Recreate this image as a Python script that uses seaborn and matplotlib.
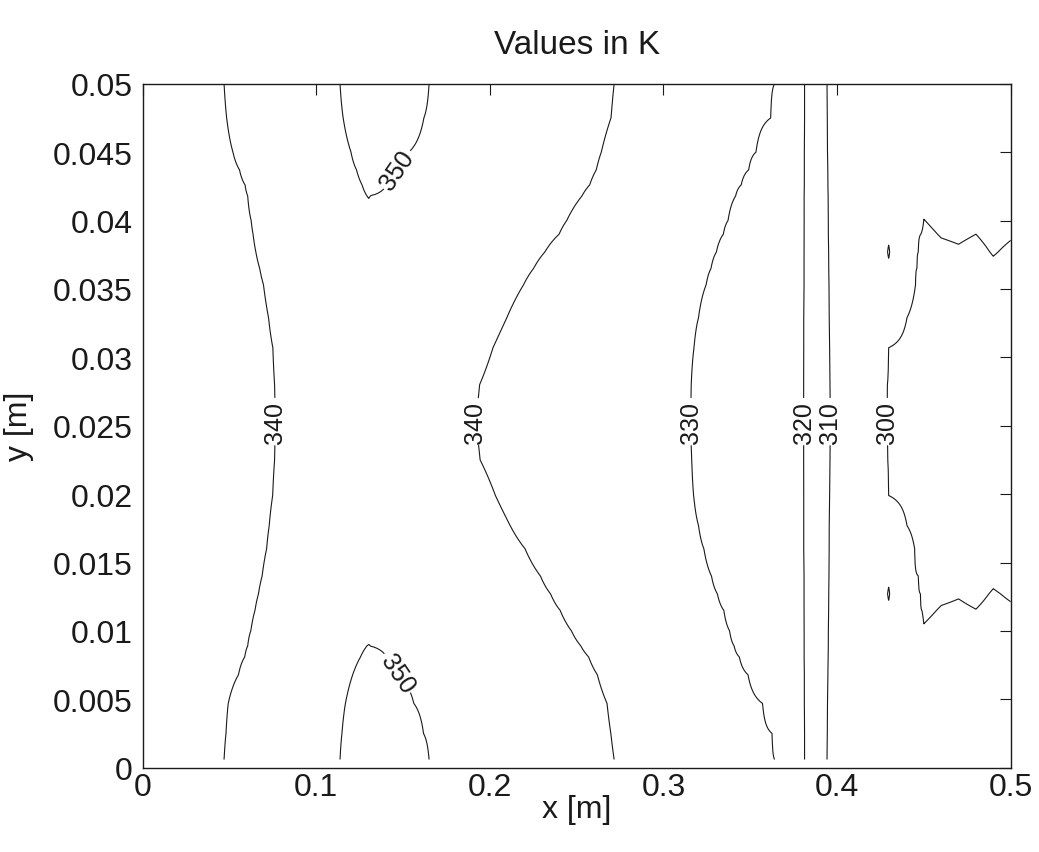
import numpy as np
import matplotlib
matplotlib.use("Agg")
import matplotlib.pyplot as plt
from matplotlib.ticker import FuncFormatter, MultipleLocator
import seaborn as sns

nan = np.nan

# rows of the temperature field (y in m)
y_rows = [0.0006, 0.0025, 0.0047, 0.0068, 0.0081, 0.0089, 0.0100, 0.0115, 0.0127, 0.0140,
          0.0160, 0.0177, 0.0199, 0.0225, 0.0253, 0.0280, 0.0307, 0.0329, 0.0353, 0.0365,
          0.0377, 0.0390, 0.0400, 0.0418, 0.0426, 0.0437, 0.0450, 0.0475, 0.0500]

# x (m) where each isotherm crosses a row
x340_left = [0.0469, 0.0480, 0.0493, 0.0552, 0.0588, 0.0605, 0.0623, 0.0647, 0.0667, 0.0688,
             0.0714, 0.0729, 0.0749, 0.0760, 0.0765, 0.0760, 0.0750, 0.0725, 0.0696, 0.0674,
             0.0652, 0.0636, 0.0625, 0.0605, 0.0590, 0.0558, 0.0520, 0.0484, 0.0469]
x350_left = [0.1137, 0.1148, 0.1168, 0.1210, 0.1255, 0.1292] + [nan] * 17 + \
            [0.1292, 0.1264, 0.1232, 0.1200, 0.1155, 0.1137]
x350_right = [0.1650, 0.1618, 0.1562, 0.1468, 0.1406, 0.1312] + [nan] * 17 + \
             [0.1312, 0.1406, 0.1466, 0.1534, 0.1620, 0.1650]
x340_right = [0.2716, 0.2697, 0.2675, 0.2619, 0.2569, 0.2524, 0.2470, 0.2405, 0.2350, 0.2292,
              0.2203, 0.2117, 0.2032, 0.1944, 0.1915, 0.1941, 0.2018, 0.2098, 0.2194, 0.2252,
              0.2317, 0.2399, 0.2443, 0.2531, 0.2575, 0.2613, 0.2642, 0.2698, 0.2716]
x330 = [0.3640, 0.3626, 0.3571, 0.3487, 0.3437, 0.3407, 0.3381, 0.3348, 0.3311, 0.3277,
        0.3233, 0.3202, 0.3174, 0.3163, 0.3157, 0.3160, 0.3176, 0.3202, 0.3246, 0.3274,
        0.3305, 0.3345, 0.3372, 0.3416, 0.3448, 0.3491, 0.3533, 0.3618, 0.3640]
x320 = [0.3813, 0.3813, 0.3812, 0.3812, 0.3811, 0.3811, 0.3811, 0.3810, 0.3810, 0.3810,
        0.3809, 0.3809, 0.3809, 0.3808, 0.3808, 0.3808, 0.3809, 0.3809, 0.3810, 0.3810,
        0.3810, 0.3811, 0.3811, 0.3811, 0.3812, 0.3812, 0.3812, 0.3813, 0.3813]
x310 = [0.3942, 0.3943, 0.3945, 0.3947, 0.3948, 0.3949, 0.3950, 0.3951, 0.3952, 0.3953,
        0.3954, 0.3955, 0.3957, 0.3959, 0.3961, 0.3959, 0.3957, 0.3955, 0.3953, 0.3952,
        0.3951, 0.3950, 0.3949, 0.3948, 0.3947, 0.3946, 0.3945, 0.3943, 0.3942]
x300 = [nan] * 7 + [0.4489, 0.4481, 0.4469, 0.4447, 0.4403, 0.4297, 0.4292, 0.4288,
                    0.4290, 0.4297, 0.4403, 0.4452, 0.4460, 0.4468, 0.4483] + [nan] * 7

# hottest value between the two 340 K lines, per row
t_peak = [356, 355, 354, 352.5, 351.5, 350.3, 348.5, 347.5, 347, 346.5,
          346, 346, 346, 346, 346, 346, 346, 346, 346, 346.5,
          347, 347.5, 348.5, 350.3, 351.5, 352.5, 354, 355, 356]
# value near x = 0.43 (the two tiny 300 K islands)
t_island = [nan] * 7 + [300.3, 299.8, 300.3] + [nan] * 9 + [300.3, 299.8, 300.3] + [nan] * 7
t_inlet = 335.0

# outlet columns: y where the 300 K line crosses them
x_cols = [0.45, 0.46, 0.47, 0.48, 0.49, 0.50]
y300_low = [0.0105, 0.0119, 0.0124, 0.0116, 0.0132, 0.0122]
y300_high = [0.0401, 0.0387, 0.0382, 0.0390, 0.0373, 0.0385]
t_col_wall = 301.5
t_col_mid = 298.0
y_mid = 0.0253

levels = [300, 310, 320, 330, 340, 350]

x_grid = np.linspace(0.0, 0.5, 2001)
field = []
for i, y in enumerate(y_rows):
    kx = [0.0, x340_left[i]]
    kt = [t_inlet, 340]
    if np.isnan(x350_left[i]):
        kx += [0.14]
        kt += [t_peak[i]]
    else:
        kx += [x350_left[i], 0.5 * (x350_left[i] + x350_right[i]), x350_right[i]]
        kt += [350, t_peak[i], 350]
    kx += [x340_right[i], x330[i], x320[i], x310[i]]
    kt += [340, 330, 320, 310]
    if not np.isnan(t_island[i]):
        if t_island[i] < 300:
            kx += [0.4282, 0.4297, 0.4312]
            kt += [300.3, t_island[i], 300.3]
        else:
            kx += [0.4297]
            kt += [t_island[i]]
    if not np.isnan(x300[i]):
        kx.append(x300[i])
        kt.append(300)
    for xc, lo, hi in zip(x_cols, y300_low, y300_high):
        kx.append(xc)
        kt.append(np.interp(y, [0.0, lo, y_mid, hi, 0.05],
                            [t_col_wall, 300, t_col_mid, 300, t_col_wall]))
    field.append(np.interp(x_grid, kx, kt))
field = np.array(field)

sns.set_theme(style="white")
plt.rcParams['font.family'] = ['Liberation Sans', 'DejaVu Sans']
plt.rcParams['text.color'] = 'k'
plt.rcParams['axes.labelcolor'] = 'k'

fig = plt.figure(figsize=(10.39, 8.53), dpi=100)
ax = fig.add_axes([0.1373, 0.0988, 0.8354, 0.8019])

cs = ax.contour(x_grid, y_rows, field, levels=levels, colors='k', linewidths=0.8)
label_spots = [(0.0765, 0.0253), (0.1915, 0.0253), (0.3157, 0.0253), (0.3808, 0.0253),
               (0.3961, 0.0253), (0.4288, 0.0253), (0.1466, 0.0437), (0.1466, 0.0069)]
texts = ax.clabel(cs, fmt='%d', fontsize=18, inline=True, inline_spacing=3,
                  manual=label_spots)
for t in texts:
    t.set_color('k')
    if abs(t.get_rotation() - 270) < 1:
        t.set_rotation(90)

ax.set_xlim(0, 0.5)
ax.set_ylim(0, 0.05)
ax.xaxis.set_major_locator(MultipleLocator(0.1))
ax.yaxis.set_major_locator(MultipleLocator(0.005))
fmt = FuncFormatter(lambda v, p: f"{v:g}")
ax.xaxis.set_major_formatter(fmt)
ax.yaxis.set_major_formatter(fmt)
ax.tick_params(direction='in', length=8, width=0.8, top=True, right=True,
               labelsize=23, colors='k')
ax.tick_params(axis='x', pad=3)
ax.tick_params(axis='y', pad=7)
for s in ax.spines.values():
    s.set_color('k')
    s.set_linewidth(1.0)

ax.set_xlabel('x [m]', fontsize=23, labelpad=-6)
ax.set_ylabel('y [m]', fontsize=23, labelpad=14)
ax.set_title('Values in K', fontsize=24, pad=22)

fig.savefig('out.png', dpi=100)
